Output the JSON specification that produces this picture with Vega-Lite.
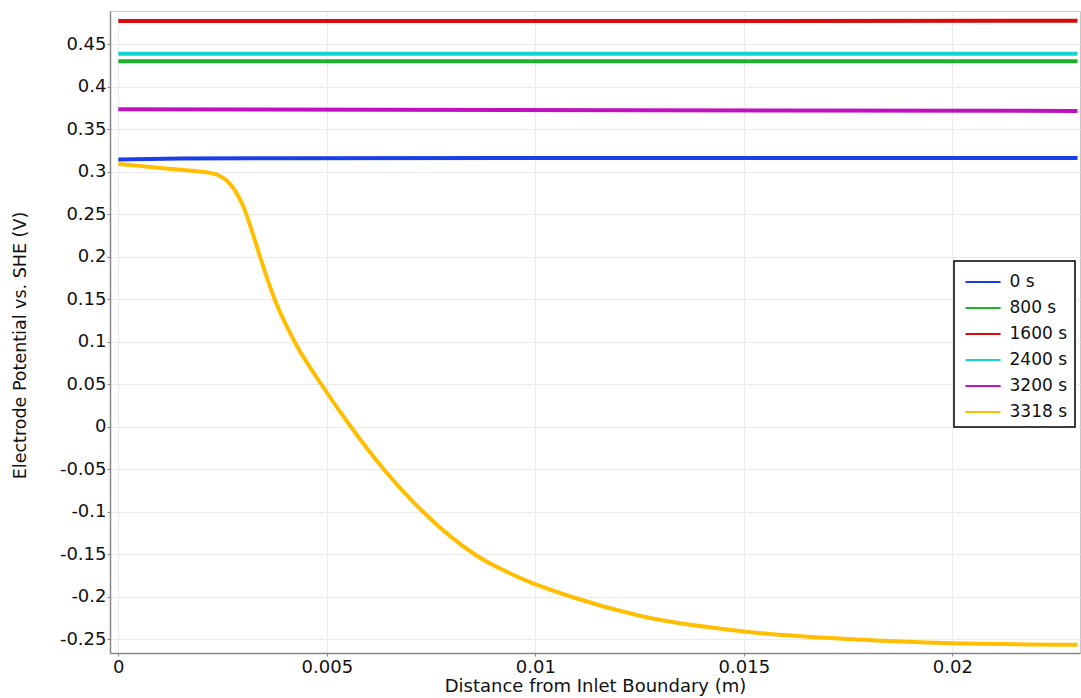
{
  "$schema": "https://vega.github.io/schema/vega-lite/v6.json",
  "width": 970,
  "height": 642,
  "autosize": {"type": "none"},
  "padding": {"left": 110, "top": 11, "right": 1, "bottom": 45},
  "background": "white",
  "config": {
    "font": "DejaVu Sans",
    "view": {"stroke": "#c8c8c8", "strokeWidth": 1}
  },
  "data": {
    "values": [
      {"t": "0 s", "x": 0, "v": 0.3148},
      {"t": "0 s", "x": 0.0015, "v": 0.3158},
      {"t": "0 s", "x": 0.004, "v": 0.3163},
      {"t": "0 s", "x": 0.023, "v": 0.3165},
      {"t": "800 s", "x": 0, "v": 0.4302},
      {"t": "800 s", "x": 0.023, "v": 0.4302},
      {"t": "1600 s", "x": 0, "v": 0.4776},
      {"t": "1600 s", "x": 0.023, "v": 0.4778},
      {"t": "2400 s", "x": 0, "v": 0.4392},
      {"t": "2400 s", "x": 0.023, "v": 0.4392},
      {"t": "3200 s", "x": 0, "v": 0.3738},
      {"t": "3200 s", "x": 0.023, "v": 0.3718},
      {"t": "3318 s", "x": 0, "v": 0.3094},
      {"t": "3318 s", "x": 0.0005, "v": 0.3072},
      {"t": "3318 s", "x": 0.001, "v": 0.3048},
      {"t": "3318 s", "x": 0.0015, "v": 0.3025},
      {"t": "3318 s", "x": 0.002, "v": 0.3003},
      {"t": "3318 s", "x": 0.0022, "v": 0.299},
      {"t": "3318 s", "x": 0.0024, "v": 0.2962},
      {"t": "3318 s", "x": 0.0026, "v": 0.29},
      {"t": "3318 s", "x": 0.0028, "v": 0.278},
      {"t": "3318 s", "x": 0.003, "v": 0.259},
      {"t": "3318 s", "x": 0.0032, "v": 0.231},
      {"t": "3318 s", "x": 0.0034, "v": 0.2},
      {"t": "3318 s", "x": 0.00375, "v": 0.15},
      {"t": "3318 s", "x": 0.00423, "v": 0.1},
      {"t": "3318 s", "x": 0.00487, "v": 0.05},
      {"t": "3318 s", "x": 0.00558, "v": 0.0},
      {"t": "3318 s", "x": 0.00637, "v": -0.05},
      {"t": "3318 s", "x": 0.00731, "v": -0.1},
      {"t": "3318 s", "x": 0.00855, "v": -0.15},
      {"t": "3318 s", "x": 0.0097, "v": -0.179},
      {"t": "3318 s", "x": 0.01088, "v": -0.2},
      {"t": "3318 s", "x": 0.0125, "v": -0.222},
      {"t": "3318 s", "x": 0.015, "v": -0.2405},
      {"t": "3318 s", "x": 0.0176, "v": -0.2497},
      {"t": "3318 s", "x": 0.02, "v": -0.2543},
      {"t": "3318 s", "x": 0.023, "v": -0.2561}
    ]
  },
  "mark": {"type": "line", "strokeWidth": 4, "interpolate": "monotone", "clip": true},
  "encoding": {
    "x": {
      "field": "x",
      "type": "quantitative",
      "scale": {"domain": [-0.0002, 0.02306], "nice": false, "zero": false},
      "axis": {
        "title": "Distance from Inlet Boundary (m)",
        "values": [0, 0.005, 0.01, 0.015, 0.02],
        "format": "~g",
        "labelFontSize": 18,
        "labelColor": "#111",
        "labelPadding": 2,
        "labelFlush": false,
        "tickSize": 3,
        "tickColor": "#888",
        "domainColor": "#888",
        "domainWidth": 1.5,
        "gridColor": "#ebebeb",
        "titleFontSize": 18,
        "titleFontWeight": "normal",
        "titleColor": "#111",
        "titlePadding": 1
      }
    },
    "y": {
      "field": "v",
      "type": "quantitative",
      "scale": {"domain": [-0.2659, 0.4894], "nice": false, "zero": false},
      "axis": {
        "title": "Electrode Potential vs. SHE (V)",
        "values": [-0.25, -0.2, -0.15, -0.1, -0.05, 0, 0.05, 0.1, 0.15, 0.2, 0.25, 0.3, 0.35, 0.4, 0.45],
        "labelExpr": "datum.value < 0 ? '-' + format(-datum.value, '~g') : format(datum.value, '~g')",
        "labelFontSize": 18,
        "labelColor": "#111",
        "labelPadding": 1,
        "labelFlush": false,
        "tickSize": 3,
        "tickColor": "#888",
        "domainColor": "#888",
        "domainWidth": 1.5,
        "gridColor": "#ebebeb",
        "titleFontSize": 17.5,
        "titleFontWeight": "normal",
        "titleColor": "#111",
        "titlePadding": 30,
        "titleY": 334
      }
    },
    "color": {
      "field": "t",
      "type": "nominal",
      "sort": ["0 s", "800 s", "1600 s", "2400 s", "3200 s", "3318 s"],
      "scale": {
        "domain": ["0 s", "800 s", "1600 s", "2400 s", "3200 s", "3318 s"],
        "range": ["#1a3ee8", "#1fb02c", "#d80a0a", "#14d2d2", "#c010c0", "#ffbf00"]
      },
      "legend": {
        "title": null,
        "orient": "none",
        "legendX": 844,
        "legendY": 250,
        "symbolType": "M-1,0H1.7",
        "symbolSize": 676,
        "symbolStrokeWidth": 2,
        "symbolOffset": 3.5,
        "labelFontSize": 17,
        "labelColor": "#111",
        "labelOffset": 17,
        "rowPadding": 4,
        "padding": 7,
        "strokeColor": "#000",
        "fillColor": "#fff",
        "labelLimit": 200,
        "encode": {"legend": {"update": {"strokeWidth": {"value": 1.5}}}}
      }
    }
  }
}
